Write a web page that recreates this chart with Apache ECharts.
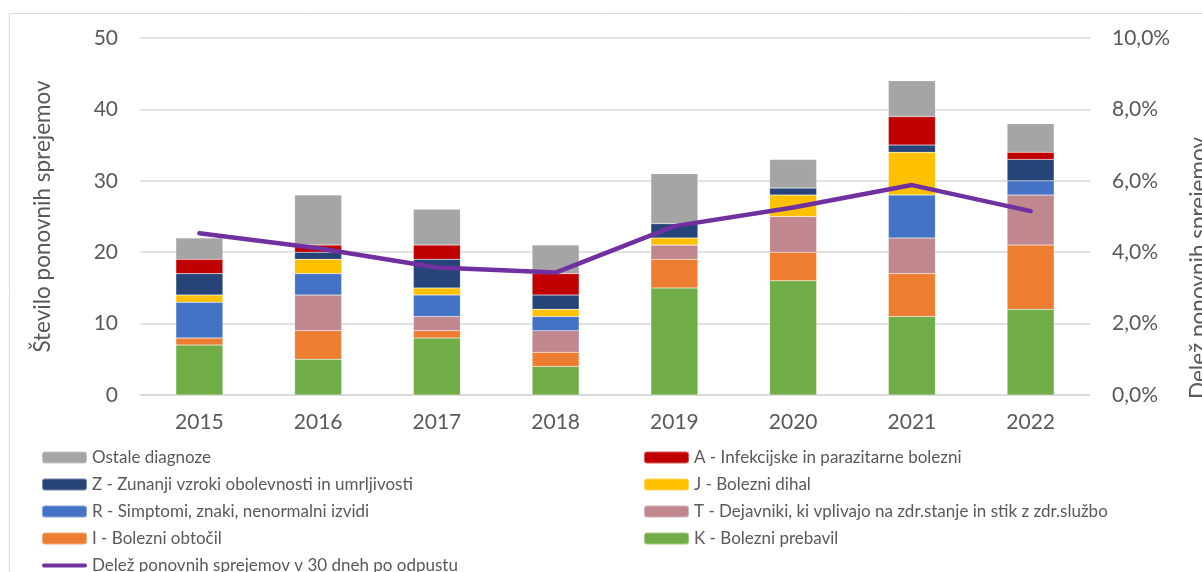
<!DOCTYPE html>
<html>
<head>
<meta charset="utf-8">
<script src="https://cdn.jsdelivr.net/npm/echarts@6/dist/echarts.min.js"></script>
<style>
  html, body { margin: 0; padding: 0; background: #fff; }
  #chart { width: 1202px; height: 572px; }
</style>
</head>
<body>
<div id="chart"></div>
<script>
// leta
var years = ['2015', '2016', '2017', '2018', '2019', '2020', '2021', '2022'];

// število ponovnih sprejemov po skupinah diagnoz (od spodaj navzgor)
var kPrebavil = [7, 5, 8, 4, 15, 16, 11, 12];
var iObtocil = [1, 4, 1, 2, 4, 4, 6, 9];
var tDejavniki = [0, 5, 2, 3, 2, 5, 5, 7];
var rSimptomi = [5, 3, 3, 2, 0, 0, 6, 2];
var jDihal = [1, 2, 1, 1, 1, 3, 6, 0];
var zZunanji = [3, 1, 4, 2, 2, 1, 1, 3];
var aInfekcijske = [2, 1, 2, 3, 0, 0, 4, 1];
var ostale = [3, 7, 5, 4, 7, 4, 5, 4];

// delež ponovnih sprejemov v 30 dneh (v %)
var delez = [4.53, 4.11, 3.57, 3.43, 4.73, 5.25, 5.88, 5.15];

var leftTicks = [0, 10, 20, 30, 40, 50];
var rightTicks = [0, 2, 4, 6, 8, 10];

var txt = '#595959';
var grid = '#d9d9d9';
var font = 'Lato';

// debela črta z zaobljenimi konci za legendo (v okvirju 45 x 12)
var lineIcon = 'path://M0,0L0.01,0L0,0.01ZM45,12L44.99,12L45,11.99Z' +
  'M2,4L43,4A2,2 0 0 1 43,8L2,8A2,2 0 0 1 2,4Z';

function bar(name, data, color) {
  return {
    name: name,
    type: 'bar',
    stack: 'diag',
    barWidth: 47,
    data: data,
    itemStyle: { color: color, borderColor: 'rgba(255,255,255,0.35)', borderWidth: 0.5 },
    emphasis: { disabled: true }
  };
}

var chart = echarts.init(document.getElementById('chart'));
chart.setOption({
  animation: false,
  textStyle: { fontFamily: font },
  grid: { left: 140, right: 112, top: 38, bottom: 177, outerBoundsMode: 'none', containLabel: false },
  graphic: [
    {
      type: 'rect',
      shape: { x: 9.5, y: 13.5, width: 1300, height: 700 },
      style: { fill: 'none', stroke: grid, lineWidth: 1 },
      silent: true
    },
    {
      type: 'text',
      x: 1199, y: 268,
      rotation: Math.PI / 2,
      style: {
        text: 'Delež ponovnih sprejemov',
        fill: txt, font: '22.5px ' + font,
        align: 'center', verticalAlign: 'middle'
      }
    }
  ],
  xAxis: {
    type: 'category',
    data: years,
    axisLine: { lineStyle: { color: grid, width: 1.5 } },
    axisTick: { show: false },
    axisLabel: { color: txt, fontSize: 21, margin: 17 }
  },
  yAxis: [
    {
      type: 'value',
      min: leftTicks[0], max: leftTicks[leftTicks.length - 1], interval: 10,
      name: 'Število ponovnih sprejemov',
      nameLocation: 'middle', nameRotate: 90, nameGap: 86,
      nameTextStyle: { color: txt, fontSize: 22.5, fontFamily: font },
      axisLine: { show: false },
      axisTick: { show: false },
      axisLabel: { color: txt, fontSize: 21, margin: 22 },
      splitLine: { lineStyle: { color: grid, width: 1.5 } }
    },
    {
      type: 'value',
      position: 'right',
      min: rightTicks[0], max: rightTicks[rightTicks.length - 1], interval: 2,
      axisLine: { show: false },
      axisTick: { show: false },
      axisLabel: {
        color: txt, fontSize: 21, margin: 22,
        formatter: function (v) { return v.toFixed(1).replace('.', ',') + '%'; }
      },
      splitLine: { show: false }
    }
  ],
  legend: [
    {
      left: 36, top: 444, height: 140, orient: 'vertical',
      itemWidth: 45, itemHeight: 12, itemGap: 10,
      textStyle: { color: txt, fontSize: 17 },
      data: ['Ostale diagnoze', 'Z - Zunanji vzroki obolevnosti in umrljivosti',
             'R - Simptomi, znaki, nenormalni izvidi', 'I - Bolezni obtočil',
             { name: 'Delež ponovnih sprejemov v 30 dneh po odpustu', icon: lineIcon }]
    },
    {
      left: 638, top: 444, height: 140, orient: 'vertical',
      itemWidth: 45, itemHeight: 12, itemGap: 10,
      textStyle: { color: txt, fontSize: 17 },
      data: ['A - Infekcijske in parazitarne bolezni', 'J - Bolezni dihal',
             'T - Dejavniki, ki vplivajo na zdr.stanje in stik z zdr.službo',
             'K - Bolezni prebavil']
    }
  ],
  series: [
    bar('K - Bolezni prebavil', kPrebavil, '#70ad47'),
    bar('I - Bolezni obtočil', iObtocil, '#ed7d31'),
    bar('T - Dejavniki, ki vplivajo na zdr.stanje in stik z zdr.službo', tDejavniki, '#c0878f'),
    bar('R - Simptomi, znaki, nenormalni izvidi', rSimptomi, '#4472c4'),
    bar('J - Bolezni dihal', jDihal, '#ffc000'),
    bar('Z - Zunanji vzroki obolevnosti in umrljivosti', zZunanji, '#264478'),
    bar('A - Infekcijske in parazitarne bolezni', aInfekcijske, '#c00000'),
    bar('Ostale diagnoze', ostale, '#a5a5a5'),
    {
      name: 'Delež ponovnih sprejemov v 30 dneh po odpustu',
      type: 'line',
      yAxisIndex: 1,
      data: delez,
      showSymbol: false,
      symbol: 'none',
      lineStyle: { color: '#7030a0', width: 4.5, cap: 'round', join: 'round' },
      itemStyle: { color: '#7030a0' },
      z: 5
    }
  ]
});
</script>
</body>
</html>
